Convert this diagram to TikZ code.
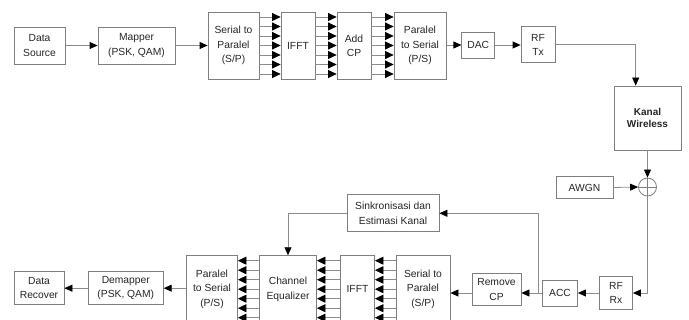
\documentclass[tikz,border=0pt]{standalone}
\usepackage{fontspec}
\setmainfont{Liberation Sans}
\usepackage{tikz}
\usetikzlibrary{arrows.meta}
\definecolor{boxline}{HTML}{7F7F7F}
\definecolor{wire}{HTML}{8C8C8C}
\definecolor{txt}{HTML}{262626}

\begin{document}
\begin{tikzpicture}[x=1pt,y=-1pt,
  blk/.style={draw=boxline,line width=0.8pt,fill=white,text=txt,align=center,
    inner sep=1pt,font=\fontsize{10.3}{14.3}\selectfont},
  arr/.style={-{Triangle[length=8pt,width=7pt,color=black]},draw=wire,line width=0.8pt},
  bus/.style={-{Triangle[length=8.5pt,width=8pt,color=black]},draw=wire,line width=0.8pt}]
  \useasboundingbox (0,0) rectangle (689,320);
  % transmitter
  \node[blk,minimum width=51,minimum height=37] (src) at (39.5,45.5) {Data\\Source};
  \node[blk,minimum width=77,minimum height=37] (map) at (136.5,45.5) {Mapper\\(PSK, QAM)};
  \node[blk,minimum width=51,minimum height=67] (sp) at (233.5,45.5) {Serial to\\Paralel\\(S/P)};
  \node[blk,minimum width=34,minimum height=67] (ifft) at (298,45.5) {IFFT};
  \node[blk,minimum width=34,minimum height=67] (acp) at (354,45.5) {Add\\CP};
  \node[blk,minimum width=52,minimum height=67] (ps) at (420,45.5) {Paralel\\to Serial\\(P/S)};
  \node[blk,minimum width=33,minimum height=26] (dac) at (478.3,45) {DAC};
  \node[blk,minimum width=34,minimum height=36] (rftx) at (538,44.7) {RF\\Tx};
  % channel
  \node[blk,minimum width=67,minimum height=64,font=\fontsize{10}{12.5}\selectfont\bfseries] (kanal) at (647.5,118) {Kanal\\Wireless};
  \node[draw=boxline,line width=0.8pt,circle,minimum size=18,inner sep=0pt] (sum) at (647.5,187) {};
  \draw[boxline,line width=0.8pt] (sum.north) -- (sum.south) (sum.west) -- (sum.east);
  \node[blk,minimum width=57,minimum height=22] (awgn) at (584.5,187.5) {AWGN};
  % receiver
  \node[blk,minimum width=33,minimum height=33] (rfrx) at (616,293) {RF\\Rx};
  \node[blk,minimum width=35,minimum height=26] (acc) at (560,293) {ACC};
  \node[blk,minimum width=49,minimum height=32] (rcp) at (496.5,289.5) {Remove\\CP};
  \node[blk,minimum width=92,minimum height=37] (sinc) at (393,213.3) {Sinkronisasi dan\\Estimasi Kanal};
  \node[blk,minimum width=54,minimum height=67] (sp2) at (423,289.2) {Serial to\\Paralel\\(S/P)};
  \node[blk,minimum width=34,minimum height=67] (ifft2) at (357.5,289.2) {IFFT};
  \node[blk,minimum width=57,minimum height=67] (eq) at (288,289.2) {Channel\\Equalizer};
  \node[blk,minimum width=51,minimum height=67] (ps2) at (212,289.2) {Paralel\\to Serial\\(P/S)};
  \node[blk,minimum width=75,minimum height=33] (demap) at (125.8,288.2) {Demapper\\(PSK, QAM)};
  \node[blk,minimum width=50,minimum height=33] (rec) at (39,288.2) {Data\\Recover};
  \coordinate (br) at (538.3,293);

  \draw[arr] (src) -- (map);
  \draw[arr] (map) -- (sp);
  \foreach \k in {-3,...,3} {
    \draw[bus] ([yshift=\k*9.5pt]sp.east) -- ([yshift=\k*9.5pt]ifft.west);
    \draw[bus] ([yshift=\k*9.5pt]ifft.east) -- ([yshift=\k*9.5pt]acp.west);
    \draw[bus] ([yshift=\k*9.5pt]acp.east) -- ([yshift=\k*9.5pt]ps.west);
    \draw[bus] ([yshift=\k*9.5pt]sp2.west) -- ([yshift=\k*9.5pt]ifft2.east);
    \draw[bus] ([yshift=\k*9.5pt]ifft2.west) -- ([yshift=\k*9.5pt]eq.east);
    \draw[bus] ([yshift=\k*9.5pt]eq.west) -- ([yshift=\k*9.5pt]ps2.east);
  }
  \draw[arr] (ps.east |- dac.west) -- (dac.west);
  \draw[arr] (dac.east) -- (dac.east -| rftx.west);
  \draw[arr] (rftx.east) -| ([xshift=-11.8pt]kanal.north);
  \draw[arr] (kanal.south) -- (sum.north);
  \draw[arr] (awgn.east) -- (sum.west);
  \draw[arr] (sum.south) |- (rfrx.east);
  \draw[arr] (rfrx.west) -- (acc.east);
  \draw[arr] (acc.west) -- (acc.west -| rcp.east);
  \draw[arr] (br) |- (sinc.east);
  \draw[arr] (sinc.west) -| (eq.north);
  \draw[arr] (rcp.west |- br) -- (br -| sp2.east);
  \draw[arr] (ps2.west |- demap.east) -- (demap.east);
  \draw[arr] (demap.west) -- (rec.east);
\end{tikzpicture}
\end{document}
